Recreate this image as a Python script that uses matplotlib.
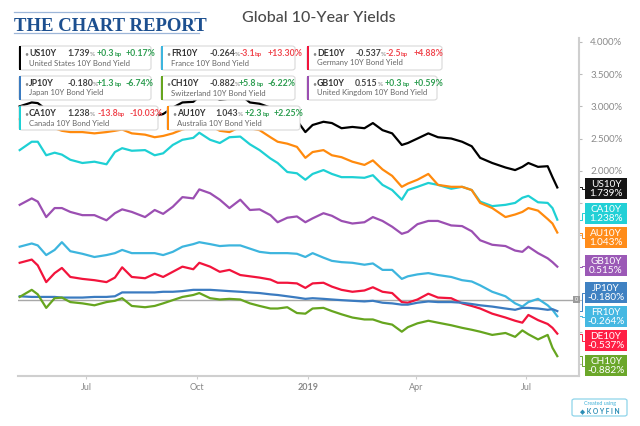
import matplotlib
matplotlib.use("Agg")
import matplotlib.pyplot as plt
import numpy as np
import pandas as pd
from matplotlib.patches import FancyBboxPatch, Rectangle
from matplotlib.lines import Line2D

plt.rcParams['font.family'] = ['Lato', 'DejaVu Sans']

# ---------------- data ----------------
dates = ["2018-05-07", "2018-05-17", "2018-05-22", "2018-05-29", "2018-06-05", "2018-06-11",
         "2018-06-18", "2018-06-28", "2018-07-08", "2018-07-18", "2018-07-25", "2018-07-31",
         "2018-08-08", "2018-08-19", "2018-08-27", "2018-09-03", "2018-09-11", "2018-09-19",
         "2018-09-28", "2018-10-03", "2018-10-12", "2018-10-20", "2018-10-28", "2018-11-06",
         "2018-11-14", "2018-11-22", "2018-12-01", "2018-12-07", "2018-12-15", "2018-12-23",
         "2018-12-30", "2019-01-05", "2019-01-14", "2019-01-21", "2019-01-29", "2019-02-07",
         "2019-02-17", "2019-02-24", "2019-03-04", "2019-03-12", "2019-03-20", "2019-03-25",
         "2019-04-02", "2019-04-11", "2019-04-19", "2019-04-30", "2019-05-09", "2019-05-17",
         "2019-05-24", "2019-06-03", "2019-06-14", "2019-06-22", "2019-06-28", "2019-07-03",
         "2019-07-11", "2019-07-19", "2019-07-23", "2019-07-27"]

us10y = [3.00, 3.06, 3.05, 2.95, 2.93, 2.92, 2.90, 2.86, 2.85, 2.88,
         2.96, 2.98, 2.95, 2.88, 2.85, 2.88, 2.98, 3.06, 3.07, 3.15,
         3.18, 3.10, 3.12, 3.18, 3.06, 3.04, 2.98, 2.88, 2.85, 2.78,
         2.60, 2.71, 2.76, 2.74, 2.66, 2.68, 2.66, 2.74, 2.63, 2.58,
         2.40, 2.43, 2.50, 2.58, 2.52, 2.50, 2.45, 2.38, 2.20, 2.12,
         2.05, 2.01, 2.06, 2.12, 2.06, 2.07, 1.90, 1.74]
fr10y = [0.82, 0.87, 0.84, 0.69, 0.77, 0.89, 0.75, 0.71, 0.66, 0.69,
         0.72, 0.77, 0.72, 0.72, 0.72, 0.69, 0.74, 0.82, 0.86, 0.89,
         0.86, 0.83, 0.84, 0.84, 0.79, 0.74, 0.72, 0.72, 0.72, 0.71,
         0.66, 0.72, 0.65, 0.60, 0.58, 0.57, 0.54, 0.56, 0.46, 0.46,
         0.32, 0.36, 0.39, 0.41, 0.38, 0.35, 0.30, 0.28, 0.22, 0.12,
         0.05, -0.06, -0.11, -0.04, 0.01, -0.09, -0.16, -0.26]
de10y = [0.57, 0.62, 0.53, 0.27, 0.41, 0.49, 0.35, 0.32, 0.30, 0.27,
         0.34, 0.50, 0.35, 0.33, 0.40, 0.35, 0.43, 0.51, 0.47, 0.57,
         0.51, 0.43, 0.46, 0.38, 0.36, 0.34, 0.31, 0.26, 0.26, 0.25,
         0.18, 0.25, 0.26, 0.20, 0.15, 0.12, 0.14, 0.19, 0.12, 0.10,
         -0.04, -0.05, 0.00, 0.09, 0.03, 0.02, -0.06, -0.10, -0.14, -0.22,
         -0.28, -0.33, -0.36, -0.24, -0.32, -0.38, -0.44, -0.53]
jp10y = [0.05, 0.04, 0.04, 0.04, 0.04, 0.03, 0.03, 0.03, 0.04, 0.04,
         0.05, 0.11, 0.11, 0.11, 0.11, 0.12, 0.12, 0.13, 0.15, 0.15,
         0.15, 0.14, 0.13, 0.12, 0.11, 0.10, 0.08, 0.07, 0.05, 0.03,
         0.01, 0.02, 0.01, 0.00, -0.01, -0.02, -0.03, -0.02, -0.05, -0.06,
         -0.08, -0.08, -0.05, -0.03, -0.04, -0.04, -0.05, -0.07, -0.09, -0.11,
         -0.14, -0.16, -0.13, -0.13, -0.14, -0.16, -0.15, -0.18]
ch10y = [0.04, 0.15, 0.08, -0.13, 0.02, 0.03, -0.04, -0.06, -0.09, -0.04,
         -0.02, 0.02, -0.10, -0.12, -0.10, -0.06, -0.01, 0.04, 0.07, 0.10,
         0.02, 0.00, 0.01, 0.00, -0.06, -0.10, -0.14, -0.14, -0.12, -0.21,
         -0.22, -0.14, -0.13, -0.18, -0.23, -0.28, -0.31, -0.31, -0.36, -0.39,
         -0.50, -0.43, -0.37, -0.33, -0.36, -0.40, -0.44, -0.47, -0.50, -0.55,
         -0.52, -0.58, -0.48, -0.54, -0.62, -0.55, -0.75, -0.88]
gb10y = [1.47, 1.57, 1.52, 1.28, 1.42, 1.42, 1.36, 1.31, 1.31, 1.23,
         1.34, 1.40, 1.36, 1.28, 1.39, 1.33, 1.44, 1.59, 1.57, 1.71,
         1.65, 1.55, 1.42, 1.55, 1.39, 1.40, 1.31, 1.20, 1.27, 1.29,
         1.20, 1.26, 1.34, 1.30, 1.22, 1.18, 1.20, 1.28, 1.22, 1.13,
         1.02, 1.05, 1.17, 1.22, 1.22, 1.15, 1.14, 1.06, 0.92, 0.85,
         0.83, 0.76, 0.74, 0.82, 0.72, 0.64, 0.58, 0.51]
ca10y = [2.32, 2.45, 2.45, 2.24, 2.28, 2.25, 2.17, 2.12, 2.14, 2.10,
         2.29, 2.35, 2.31, 2.32, 2.24, 2.27, 2.40, 2.48, 2.51, 2.59,
         2.48, 2.43, 2.52, 2.53, 2.41, 2.32, 2.19, 2.12, 1.98, 1.96,
         1.86, 1.95, 2.01, 1.95, 1.90, 1.90, 1.89, 1.93, 1.78, 1.70,
         1.55, 1.70, 1.75, 1.81, 1.78, 1.72, 1.75, 1.70, 1.52, 1.45,
         1.47, 1.50, 1.58, 1.61, 1.51, 1.50, 1.42, 1.24]
au10y = [2.80, 2.78, 2.75, 2.68, 2.66, 2.62, 2.60, 2.60, 2.58, 2.60,
         2.62, 2.64, 2.58, 2.56, 2.52, 2.54, 2.58, 2.64, 2.68, 2.72,
         2.70, 2.62, 2.60, 2.68, 2.66, 2.63, 2.52, 2.45, 2.42, 2.37,
         2.20, 2.29, 2.32, 2.24, 2.21, 2.14, 2.09, 2.16, 2.02, 1.92,
         1.75, 1.80, 1.86, 1.95, 1.78, 1.75, 1.75, 1.70, 1.50, 1.42,
         1.28, 1.32, 1.36, 1.42, 1.38, 1.25, 1.18, 1.04]

codes = ["US10Y", "FR10Y", "DE10Y", "JP10Y", "CH10Y", "GB10Y", "CA10Y", "AU10Y"]
names = ["United States 10Y Bond Yield", "France 10Y Bond Yield", "Germany 10Y Bond Yield",
         "Japan 10Y Bond Yield", "Switzerland 10Y Bond Yield", "United Kingdom 10Y Bond Yield",
         "Canada 10Y Bond Yield", "Australia 10Y Bond Yield"]
last_vals = ["1.739", "-0.264", "-0.537", "-0.180", "-0.882", "0.515", "1.238", "1.043"]
chg_bp = ["+0.3", "-3.1", "-2.5", "+1.3", "+5.8", "+0.3", "-13.8", "+2.3"]
chg_pct = ["+0.17%", "+13.30%", "+4.88%", "-6.74%", "-6.22%", "+0.59%", "-10.03%", "+2.25%"]
chg_up = [True, False, False, True, True, True, False, True]
series = [us10y, fr10y, de10y, jp10y, ch10y, gb10y, ca10y, au10y]
colors = ["#000000", "#3db5de", "#f2143c", "#3b7bc0", "#66a51f", "#9b4fb2", "#1ed0d4", "#ff8a0d"]
box_colors = ["#151515", "#45b8e2", "#ff1f45", "#3f81c2", "#6ba72a", "#9b59b6", "#22d0d6", "#ff8c1a"]

x_tick_dates = ["2018-07-01", "2018-10-01", "2019-01-01", "2019-04-01", "2019-07-01"]
x_tick_labels = ["Jul", "Oct", "2019", "Apr", "Jul"]
y_ticks = [-1.0, -0.5, 0.0, 0.5, 1.0, 1.5, 2.0, 2.5, 3.0, 3.5, 4.0]

# ---------------- layout helpers ----------------
W, H = 640, 426
fig = plt.figure(figsize=(6.4, 4.26), dpi=100)
fig.patch.set_facecolor("white")
rend = fig.canvas.get_renderer()


def fx(x):
    return x / W


def fy(y):
    return 1 - y / H


ax = fig.add_axes([fx(18), fy(376), (579 - 18) / W, (376 - 38) / H])
t = pd.to_datetime(dates)
for s, c in zip(series, colors):
    ax.plot(t, s, color=c, lw=1.6, solid_joinstyle="round", zorder=3)
ax.axhline(0, color="#a8a8a8", lw=1.0, zorder=2)

base = pd.Timestamp("2018-07-01")
ax.set_xlim(base + pd.Timedelta(days=-56.4), base + pd.Timedelta(days=409))
ax.set_ylim(-1.188, 4.061)

ax.set_xticks(pd.to_datetime(x_tick_dates))
ax.set_xticklabels(x_tick_labels)
for lab in ax.get_xticklabels():
    if lab.get_text() == "2019":
        lab.set_fontweight("bold")
        lab.set_fontsize(7.5)
        lab.set_color("#555555")
ax.tick_params(axis="x", length=2, color="#cccccc", labelsize=6.5, labelcolor="#888888", pad=3)

ax.yaxis.tick_right()
ax.set_yticks(y_ticks)
# labels below 2% sit under the value boxes in the reference, so they stay blank
ax.set_yticklabels([f"{v:.3f}%" if v >= 2.0 else "" for v in y_ticks])
ax.tick_params(axis="y", length=2, color="#bbbbbb", labelsize=7, labelcolor="#8a8a8a", pad=6)

for side in ["left", "top"]:
    ax.spines[side].set_visible(False)
for side in ["bottom", "right"]:
    ax.spines[side].set_color("#cfcfcf")
    ax.spines[side].set_linewidth(1.5)

# ---------------- header ----------------
fig.text(fx(14), fy(31), "THE CHART REPORT", family=["Liberation Serif", "DejaVu Serif"],
         fontweight="bold", fontsize=13.5, color="#1c4f8f", va="baseline", ha="left")
for yy in (12, 32.5):
    fig.add_artist(Line2D([fx(14), fx(199)], [fy(yy), fy(yy)], color="#9db6d8", lw=0.9,
                          transform=fig.transFigure))
fig.text(fx(319), fy(18), "Global 10-Year Yields", ha="center", va="center",
         fontsize=11.5, color="#4a4a4a", fontweight="medium")


# ---------------- legend boxes ----------------
def pieces(x, y, items):
    for s, size, color, weight in items:
        tx = fig.text(fx(x), fy(y), s, fontsize=size, color=color, fontweight=weight,
                      va="baseline", ha="left", zorder=8)
        bb = tx.get_window_extent(renderer=rend)
        x += bb.width
    return x


legend_pos = [(19, 46, 132), (161, 46, 134), (307, 46, 135),
              (19, 76, 132), (161, 76, 134), (307, 76, 130),
              (19, 106, 139), (167, 106, 133)]
GREEN, RED = "#2f9e52", "#f0474f"
for i, (x0, y0, w) in enumerate(legend_pos):
    h = 24
    fig.add_artist(FancyBboxPatch((fx(x0), fy(y0 + h)), w / W, h / H,
                                  boxstyle="round,pad=0,rounding_size=0.005",
                                  transform=fig.transFigure, fc="white", ec="#d9d9d9",
                                  lw=0.8, zorder=5))
    fig.add_artist(Rectangle((fx(x0), fy(y0 + h)), 2.2 / W, h / H, transform=fig.transFigure,
                             fc=colors[i], ec="none", zorder=6))
    cc = GREEN if chg_up[i] else RED
    yb = y0 + 10
    pieces(x0 + 5, yb, [("•", 5, "#888888", "normal")])
    pieces(x0 + 10, yb, [(codes[i], 6.3, "#333333", "bold")])
    pieces(x0 + 48, yb, [(last_vals[i], 6.3, "#444444", "bold"), ("%", 4.6, "#777777", "normal")])
    xe = pieces(x0 + 78, yb, [(chg_bp[i], 6.3, cc, "bold"), ("bp", 4.6, cc, "bold")])
    pieces(max(x0 + 107, xe + 4), yb, [(chg_pct[i], 6.3, cc, "bold")])
    pieces(x0 + 10, y0 + 19.5, [(names[i], 5.6, "#666666", "normal")])

# ---------------- right value labels ----------------
box_tops = {"US10Y": 178, "CA10Y": 203, "AU10Y": 227, "GB10Y": 255,
            "JP10Y": 282, "FR10Y": 306, "DE10Y": 330, "CH10Y": 355}
inv = fig.transFigure.inverted()
for i, code in enumerate(codes):
    top = box_tops[code]
    bh = 21
    fig.add_artist(Rectangle((fx(585), fy(top + bh)), 42 / W, bh / H, transform=fig.transFigure,
                             fc=box_colors[i], ec="none", zorder=6))
    fig.text(fx(606), fy(top + bh / 2 + 0.5), code + "\n" + last_vals[i] + "%", ha="center",
             va="center", fontsize=7.2, color="white", zorder=8, linespacing=1.05)
    # connector from line end to box
    _, yv = inv.transform(ax.transData.transform((0, series[i][-1])))
    yc = fy(top + bh / 2)
    fig.add_artist(Line2D([fx(579.5), fx(582), fx(582), fx(585)], [yv, yv, yc, yc],
                          color=box_colors[i], lw=0.7, transform=fig.transFigure, zorder=5))

# zero marker
_, y0f = inv.transform(ax.transData.transform((0, 0.0)))
fig.add_artist(Rectangle((fx(573), y0f - 3.5 / H), 6.5 / W, 7 / H, transform=fig.transFigure,
                         fc="#9a9a9a", ec="none", zorder=6))
fig.text(fx(576.3), y0f, "0", ha="center", va="center", fontsize=4, color="white", zorder=8)

# ---------------- koyfin badge ----------------
fig.add_artist(FancyBboxPatch((fx(572), fy(416)), 55 / W, 17 / H,
                              boxstyle="round,pad=0,rounding_size=0.004",
                              transform=fig.transFigure, fc="white", ec="#8fd4ea", lw=0.9))
fig.text(fx(599.5), fy(403.5), "Created using", ha="center", va="center", fontsize=3.8,
         color="#3fb1d8", zorder=8)
fig.text(fx(599.5), fy(411), "◆ K O Y F I N", ha="center", va="center", fontsize=4.8,
         color="#2a8db5", fontweight="bold", zorder=8)

fig.savefig("out.png", dpi=100)
